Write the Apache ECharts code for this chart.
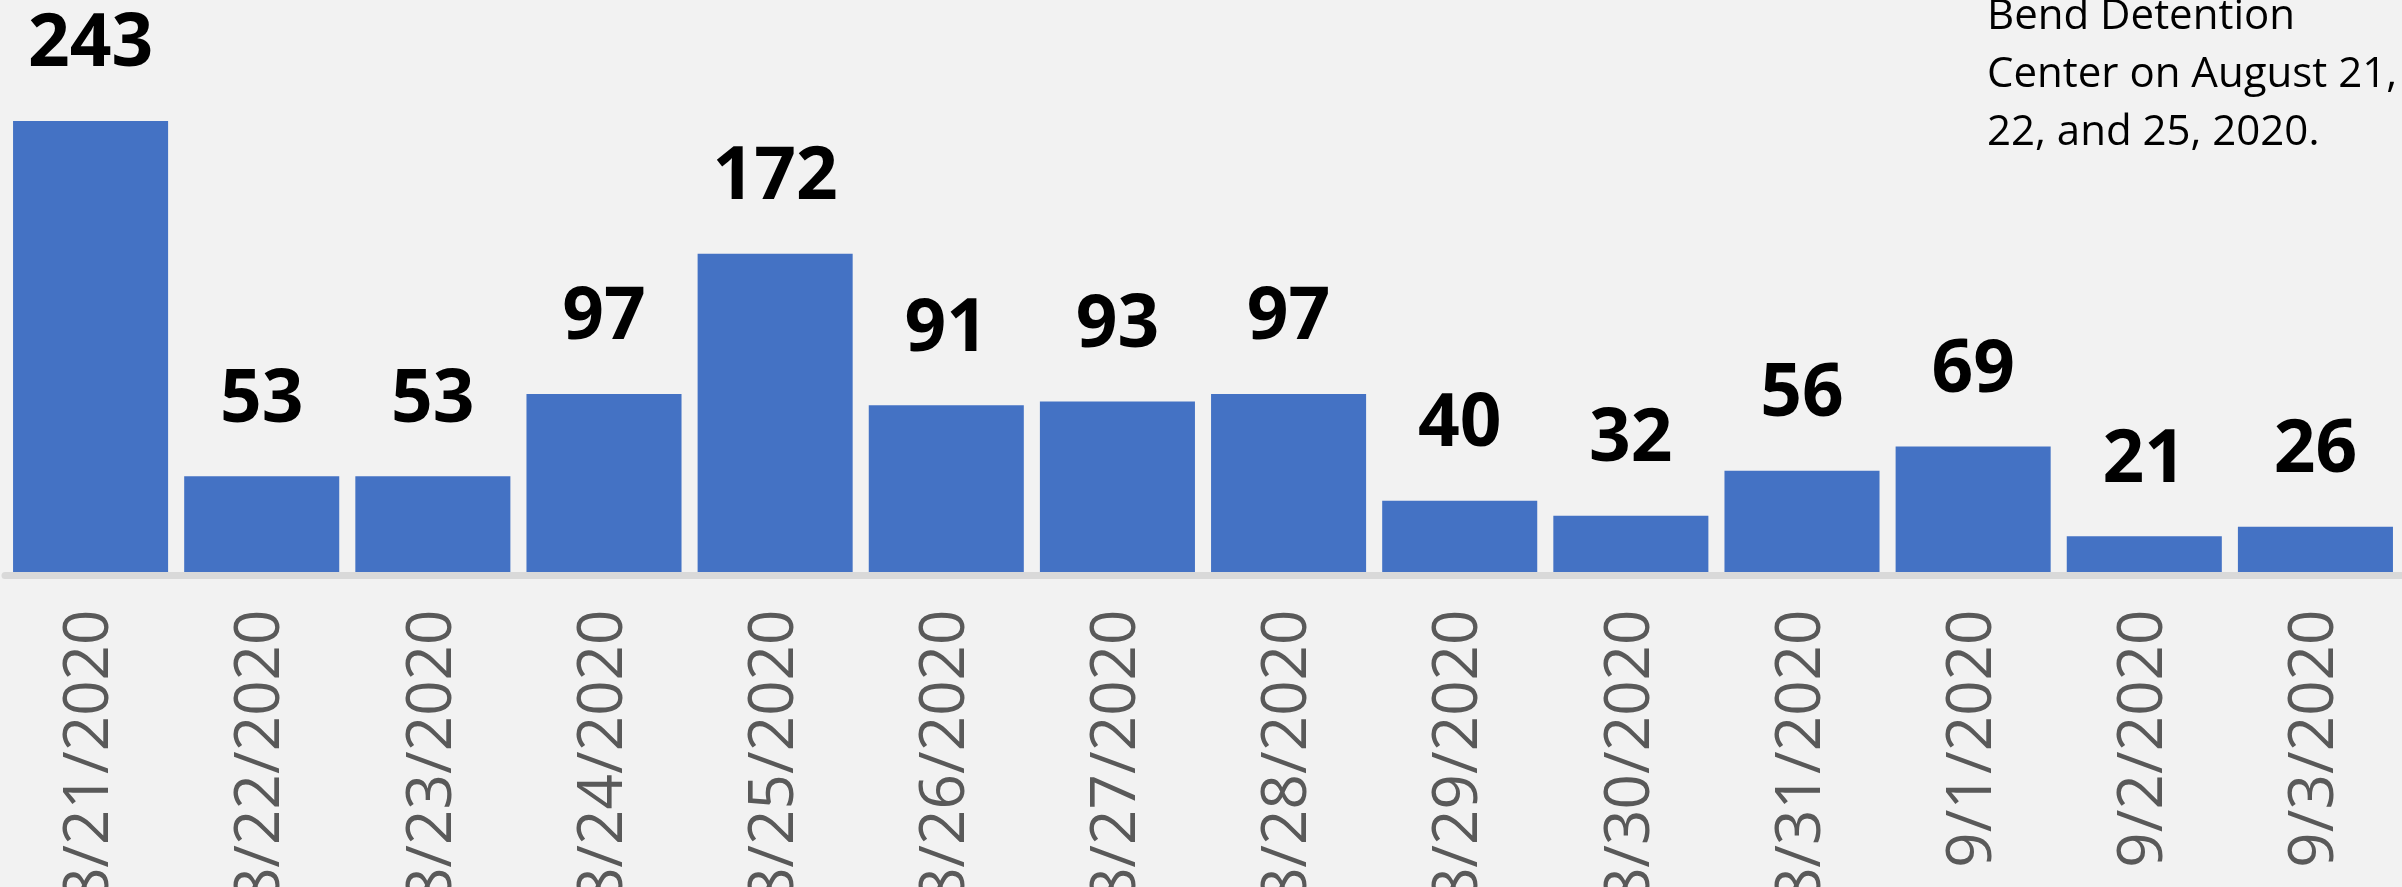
<!DOCTYPE html>
<html>
<head>
<meta charset="utf-8">
<title>Daily counts</title>
<script src="https://cdn.jsdelivr.net/npm/echarts@6/dist/echarts.min.js"></script>
<style>
  html, body { margin: 0; padding: 0; background: #f2f2f2; }
  #chartDiv { width: 2402px; height: 887px; }
</style>
</head>
<body>
<div id="chartDiv"></div>
<script>
// dates on the x axis
var dates = ['8/21/2020', '8/22/2020', '8/23/2020', '8/24/2020', '8/25/2020', '8/26/2020', '8/27/2020',
  '8/28/2020', '8/29/2020', '8/30/2020', '8/31/2020', '9/1/2020', '9/2/2020', '9/3/2020'];
// daily counts
var counts = [243, 53, 53, 97, 172, 91, 93, 97, 40, 32, 56, 69, 21, 26];
// note text in top right corner
var noteLines = ['Bend Detention', 'Center on August 21,', '22, and 25, 2020.'];

var myChart = echarts.init(document.getElementById('chartDiv'));
var option = {
  backgroundColor: '#f2f2f2',
  animation: false,
  grid: { left: 5, right: 1, top: 107.9, bottom: 311.5, containLabel: false, outerBoundsMode: 'none' },
  xAxis: {
    type: 'category',
    data: dates,
    z: 5,
    axisLine: { lineStyle: { color: '#d9d9d9', width: 7 } },
    axisTick: { show: false },
    axisLabel: {
      rotate: 90,
      margin: 34,
      color: '#595959',
      fontFamily: 'Open Sans',
      fontSize: 62
    }
  },
  yAxis: {
    type: 'value',
    min: 0,
    max: 250,
    show: false,
    splitLine: { show: false }
  },
  series: [{
    type: 'bar',
    data: counts,
    barCategoryGap: '9.4%',
    itemStyle: { color: '#4472c4' },
    label: {
      show: true,
      position: 'top',
      distance: 39,
      color: '#000',
      fontFamily: 'Open Sans',
      fontWeight: 'bold',
      fontSize: 73
    }
  }],
  graphic: [{
    type: 'text',
    left: 1987,
    top: -12,
    style: {
      text: noteLines.join('\n'),
      fontFamily: 'Open Sans',
      fontSize: 42,
      lineHeight: 58,
      fill: '#000'
    }
  }]
};
myChart.setOption(option);
</script>
</body>
</html>
